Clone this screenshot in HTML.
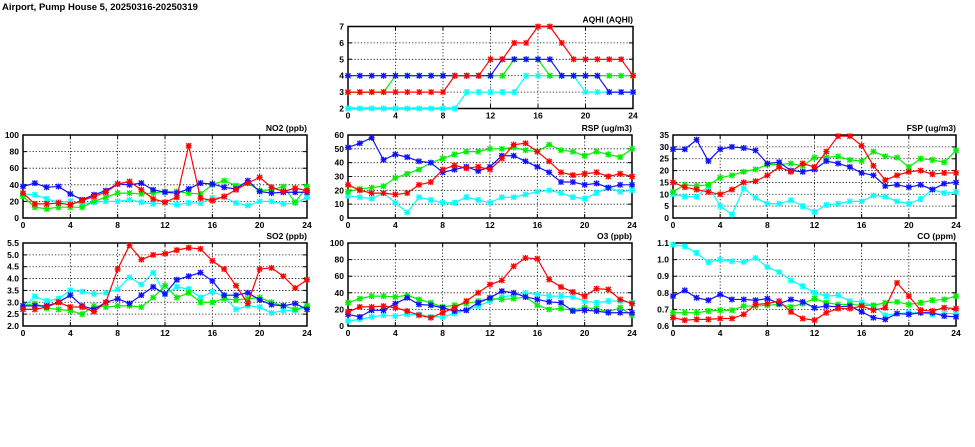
<!DOCTYPE html>
<html><head><meta charset="utf-8"><style>
html,body{margin:0;padding:0;background:#fff;width:975px;height:447px;overflow:hidden}
svg text{font-family:"Liberation Sans",sans-serif;font-weight:bold;font-size:8.5px;fill:#000}
</style></head><body>
<svg id="chart" width="975" height="447" xmlns="http://www.w3.org/2000/svg">
<text x="2" y="10" style="font-size:9.5px">Airport, Pump House 5, 20250316-20250319</text>
</svg>
<script>
const hours=[0,1,2,3,4,5,6,7,8,9,10,11,12,13,14,15,16,17,18,19,20,21,22,23,24];
const xTicks=[0,4,8,12,16,20,24];
const aqhiRed=[3,3,3,3,3,3,3,3,3,4,4,4,5,5,6,6,7,7,6,5,5,5,5,5,4];
const aqhiBlue=[4,4,4,4,4,4,4,4,4,4,4,4,4,5,5,5,5,5,4,4,4,4,3,3,3];
const aqhiGreen=[3,3,3,3,4,4,4,4,4,4,4,4,4,4,5,5,5,4,4,4,4,4,4,4,4];
const aqhiCyan=[2,2,2,2,2,2,2,2,2,2,3,3,3,3,3,4,4,4,4,4,3,3,3,3,3];
const no2Blue=[38,42,37,38,29,22,28,33,41,40,42,34,31,30,35,42,41,37,35,45,32,30,31,31,31];
const no2Red=[30,17,17,18,16,21,26,31,41,44,34,23,19,25,87,24,21,26,34,42,49,37,32,36,33];
const no2Green=[26,13,11,13,13,13,20,25,30,30,29,30,32,32,30,29,40,45,39,42,33,34,38,19,38];
const no2Cyan=[29,28,23,19,20,17,19,20,20,22,19,17,18,16,18,18,24,25,18,15,20,20,17,18,25];
const rspBlue=[51,54,58,42,46,44,41,40,33,35,37,34,37,45,45,41,37,33,26,26,24,25,22,24,24];
const rspRed=[24,20,18,18,17,18,24,26,35,38,36,37,35,43,53,54,48,41,33,31,32,33,30,32,30];
const rspGreen=[19,21,22,23,29,32,35,40,43,46,48,48,50,50,51,49,48,53,49,48,45,48,46,44,50];
const rspCyan=[16,15,14,18,11,4,15,13,11,11,15,13,11,15,15,17,19,20,18,15,14,18,22,19,20];
const fspBlue=[29,29,33,24,29,30,29.5,28.5,23,23.5,20,19.5,20.5,24,23,21.5,19,18,13.5,14,13,14,12,14.5,15];
const fspRed=[15,13,12,11,10,12,15,15.5,18,21.5,19.5,23,21.5,28,34.5,34.5,30.5,22,16,18,19.5,20,18.5,19,19];
const fspGreen=[11,14,13.5,14,17,18,19.5,20.5,22.5,22.5,23,22,25.5,25.5,26,24.5,24,28,26,25.5,21.5,25,24.5,23.5,28.5];
const fspCyan=[10,9,9,13.5,5,1.5,12.5,8.5,6,6,7.5,5,2.5,5.5,6,7,7,9.5,9,7,6,8,12,10.5,11];
const so2Red=[2.7,2.7,2.8,3.0,2.8,2.8,2.6,3.0,4.4,5.4,4.8,5.0,5.05,5.2,5.3,5.25,4.75,4.4,3.7,2.95,4.4,4.45,4.1,3.6,3.95];
const so2Blue=[2.85,2.85,2.85,3.0,3.3,2.85,2.7,3.0,3.15,2.95,3.3,3.65,3.35,3.95,4.1,4.25,3.9,3.3,3.3,3.4,3.1,2.9,2.85,2.95,2.7];
const so2Green=[2.85,2.95,2.75,2.7,2.65,2.5,2.85,2.8,2.85,2.85,2.8,3.2,3.7,3.2,3.4,3.0,3.0,3.15,3.1,3.15,3.2,3.0,2.85,2.7,2.85];
const so2Cyan=[2.75,3.25,3.05,3.15,3.5,3.45,3.35,3.4,3.55,4.05,3.75,4.25,3.35,3.65,3.55,3.2,3.45,3.25,2.7,2.85,2.8,2.55,2.65,2.65,2.8];
const o3Red=[17,23,23,24,22,18,13,10,16,22,30,40,50,55,72,82,81,56,47,41,36,45,44,32,27];
const o3Blue=[14,11,19,19,27,34,26,25,22,18,19,28,34,42,40,35,32,29,28,18,19,18,16,16,16];
const o3Green=[28,33,36,36,35,37,32,28,23,25,27,30,33,32,33,35,25,20,21,19,22,21,17,22,13];
const o3Cyan=[6,8,11,13,12,14,14,11,11,15,19,24,30,35,37,40,38,36,36,35,30,28,30,30,28];
const coCyan=[1.09,1.08,1.04,0.985,1.0,0.99,0.985,1.01,0.955,0.925,0.875,0.84,0.80,0.78,0.785,0.75,0.745,0.72,0.665,0.675,0.68,0.68,0.67,0.675,0.675];
const coBlue=[0.78,0.815,0.77,0.755,0.79,0.76,0.76,0.755,0.765,0.735,0.76,0.745,0.71,0.72,0.715,0.72,0.685,0.65,0.64,0.675,0.67,0.68,0.68,0.66,0.655];
const coGreen=[0.68,0.68,0.68,0.69,0.695,0.695,0.72,0.72,0.725,0.73,0.715,0.735,0.765,0.74,0.73,0.73,0.725,0.725,0.74,0.745,0.73,0.74,0.755,0.76,0.78];
const coRed=[0.65,0.635,0.64,0.64,0.645,0.645,0.67,0.73,0.735,0.75,0.685,0.645,0.635,0.68,0.705,0.705,0.72,0.695,0.71,0.86,0.78,0.695,0.69,0.71,0.705];
const aqhiTicks=[2,3,4,5,6,7];
const no2Ticks=[0,20,40,60,80,100];
const rspTicks=[0,10,20,30,40,50,60];
const fspTicks=[0,5,10,15,20,25,30,35];
const so2Ticks=["2.0","2.5","3.0","3.5","4.0","4.5","5.0","5.5"];
const o3Ticks=[0,20,40,60,80,100];
const coTicks=["0.6","0.7","0.8","0.9","1.0","1.1"];

const svg=document.getElementById('chart');
const NS='http://www.w3.org/2000/svg';
function mk(tag,attrs,parent){const e=document.createElementNS(NS,tag);for(const k in attrs)e.setAttribute(k,attrs[k]);(parent||svg).appendChild(e);return e;}
const C={red:'#ff0000',blue:'#1010ff',green:'#00ee00',cyan:'#00ffff'};

function panel(name,title,x0,x1,y0,y1,ticks,series){
  const g=mk('g',{});
  
  
  const tv=ticks.map(Number);
  const ymin=tv[0],ymax=tv[tv.length-1];
  const sx=h=>x0+(h-0)/(24-0)*(x1-x0);
  const sy=v=>y1-(v-ymin)/(ymax-ymin)*(y1-y0);
  ticks.forEach((t,i)=>{
    const y=sy(Number(t));
    if(i>0&&i<ticks.length-1){const l=mk('line',{x1:x0,x2:x1,y1:y,y2:y,stroke:'#000','stroke-width':0.8,'stroke-dasharray':'1.2,2'},g);
    
    
    const tk=mk('path',{d:`M${x0},${y}h4M${x1},${y}h-4`,stroke:'#000','stroke-width':1},g);
    
    }
    const tx=mk('text',{x:x0-4,y:y+3,'text-anchor':'end'},g);
    
    
    tx.textContent=t;
  });
  xTicks.forEach((t,i)=>{
    const x=sx(t);
    if(i>0&&i<xTicks.length-1){const l=mk('line',{x1:x,x2:x,y1:y0,y2:y1,stroke:'#000','stroke-width':0.8,'stroke-dasharray':'1.2,2'},g);
    
    
    const tk=mk('path',{d:`M${x},${y1}v-4M${x},${y0}v4`,stroke:'#000','stroke-width':1},g);
    
    }
    const tx=mk('text',{x:x,y:y1+10,'text-anchor':'middle'},g);
    
    
    tx.textContent=t;
  });
  const fr=mk('rect',{x:x0,y:y0,width:x1-x0,height:y1-y0,fill:'none',stroke:'#000','stroke-width':1.5},g);
  
  
  const tt=mk('text',{x:x1,y:y0-4,'text-anchor':'end'},g);
  
  
  tt.textContent=title;
  series.forEach(([col,vals])=>{
    const pts=vals.map((v,i)=>[sx(hours[i]),sy(v)]);
    const pl=mk('polyline',{points:pts.map(p=>p.join(',')).join(' '),fill:'none',stroke:C[col],'stroke-width':1.2},g);
    
    
    pts.forEach(([x,y])=>{
      const m=mk('path',{d:`M${x-2.5},${y-2.5}L${x+2.5},${y+2.5}M${x-2.5},${y+2.5}L${x+2.5},${y-2.5}M${x-3},${y}L${x+3},${y}M${x},${y-3}L${x},${y+3}`,stroke:C[col],'stroke-width':1.3,fill:'none'},g);
      
      
    });
  });
}
panel('aqhi','AQHI (AQHI)',348,633,26.5,108.5,aqhiTicks,[['cyan',aqhiCyan],['green',aqhiGreen],['blue',aqhiBlue],['red',aqhiRed]]);
panel('no2','NO2 (ppb)',23,307,135,218,no2Ticks,[['cyan',no2Cyan],['green',no2Green],['blue',no2Blue],['red',no2Red]]);
panel('rsp','RSP (ug/m3)',348,632,135,218,rspTicks,[['cyan',rspCyan],['green',rspGreen],['blue',rspBlue],['red',rspRed]]);
panel('fsp','FSP (ug/m3)',673,956,135,218,fspTicks,[['cyan',fspCyan],['green',fspGreen],['blue',fspBlue],['red',fspRed]]);
panel('so2','SO2 (ppb)',23,307,243,326,so2Ticks,[['cyan',so2Cyan],['green',so2Green],['blue',so2Blue],['red',so2Red]]);
panel('o3','O3 (ppb)',348,632,243,326,o3Ticks,[['cyan',o3Cyan],['green',o3Green],['blue',o3Blue],['red',o3Red]]);
panel('co','CO (ppm)',673,956,243,326,coTicks,[['cyan',coCyan],['green',coGreen],['blue',coBlue],['red',coRed]]);
</script>
</body></html>
